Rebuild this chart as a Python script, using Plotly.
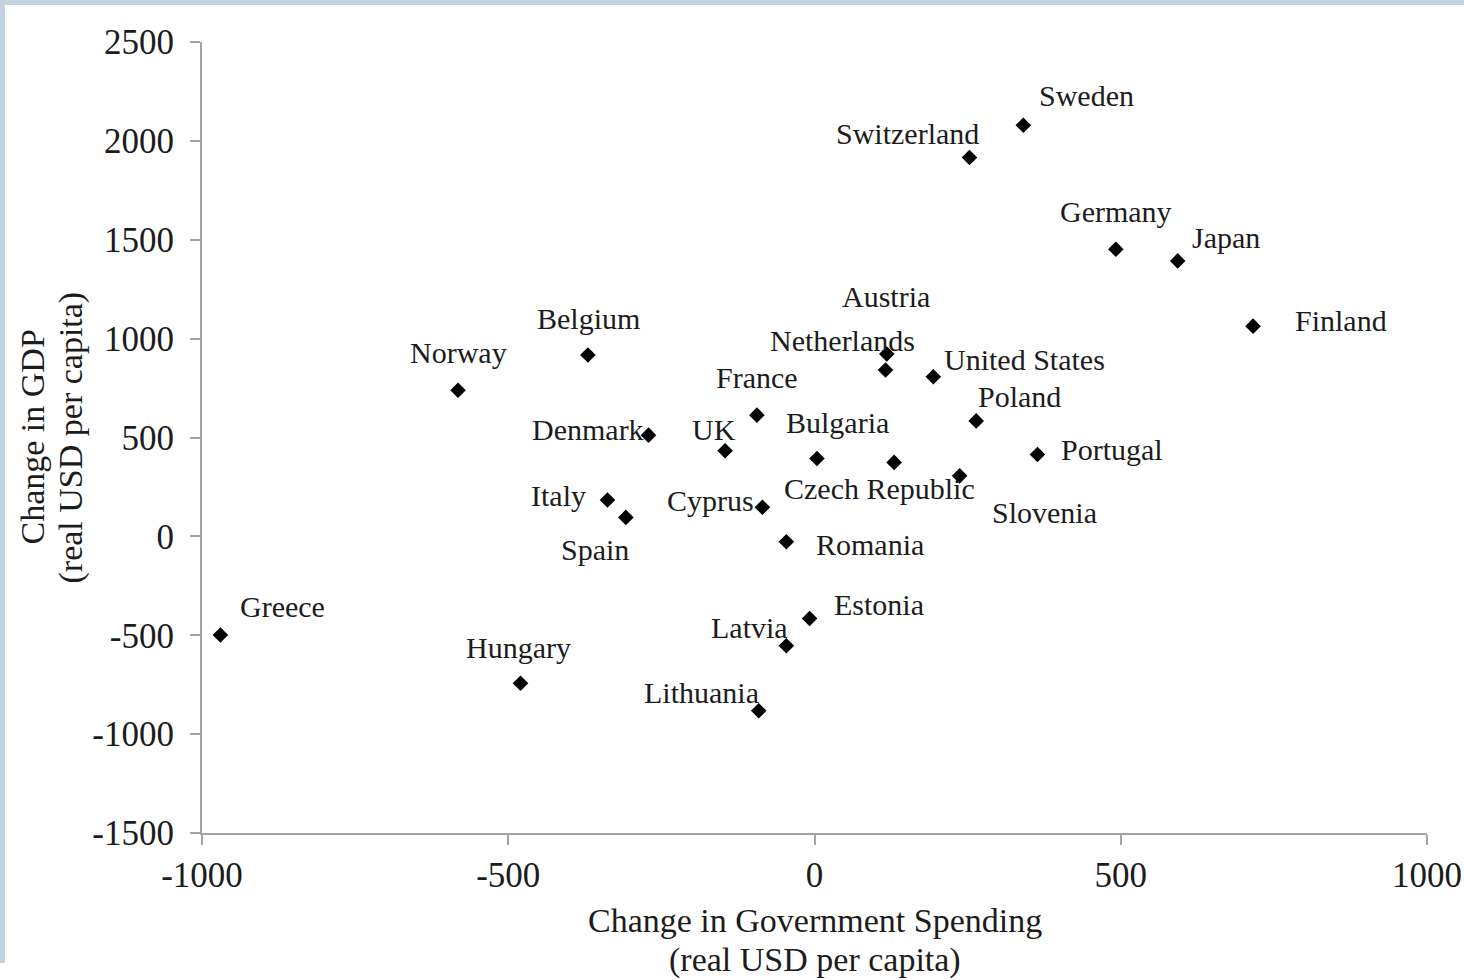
import plotly.graph_objects as go

# Change in government spending vs change in GDP, real USD per capita
countries = [
    "Greece", "Hungary", "Norway", "Belgium", "Denmark", "UK", "France",
    "Italy", "Spain", "Cyprus", "Romania", "Bulgaria", "Czech Republic",
    "Netherlands", "Austria", "United States", "Poland", "Slovenia",
    "Portugal", "Switzerland", "Sweden", "Germany", "Japan", "Finland",
    "Estonia", "Latvia", "Lithuania",
]
gov_spending = [
    -970, -480, -582, -370, -271, -146, -94,
    -338, -308, -85, -46, 4, 130,
    116, 118, 194, 264, 237,
    364, 253, 341, 492, 593, 716,
    -8, -46, -91,
]
gdp_change = [
    -499, -743, 739, 917, 512, 433, 613,
    184, 96, 147, -27, 394, 374,
    841, 922, 807, 584, 306,
    414, 1916, 2079, 1452, 1393, 1063,
    -415, -553, -882,
]

x_ticks = [-1000, -500, 0, 500, 1000]
x_tick_labels = ["-1000", "-500", "0", "500", "1000"]
y_ticks = [-1500, -1000, -500, 0, 500, 1000, 1500, 2000, 2500]
y_tick_labels = ["-1500", "-1000", "-500", "0", "500", "1000", "1500", "2000", "2500"]

# label placement relative to each marker, in pixels (right, down)
label_offsets = {
    "Greece": (62, -29), "Hungary": (-2, -36), "Norway": (0, -38),
    "Belgium": (1, -37), "Denmark": (-61, -6), "UK": (-11, -21),
    "France": (0, -38), "Italy": (-49, -4), "Spain": (-31, 32),
    "Cyprus": (-52, -7), "Romania": (84, 3), "Bulgaria": (21, -36),
    "Czech Republic": (-15, 26), "Netherlands": (-43, -30),
    "Austria": (-1, -58), "United States": (91, -17), "Poland": (43, -24),
    "Slovenia": (85, 37), "Portugal": (75, -5), "Switzerland": (-62, -24),
    "Sweden": (63, -30), "Germany": (0, -38), "Japan": (48, -23),
    "Finland": (88, -6), "Estonia": (69, -14), "Latvia": (-37, -18),
    "Lithuania": (-57, -18),
}

FONT = "Liberation Serif, Times New Roman, serif"
AXIS_GREY = "#a3a3a3"
TEXT = "#1c1c1c"
FRAME = "#c5d3e1"

W, H = 1464, 980
ML, MR, MT, MB = 202, 37, 42, 147
PW, PH = W - ML - MR, H - MT - MB

fig = go.Figure()
fig.add_trace(go.Scatter(
    x=gov_spending, y=gdp_change, mode="markers",
    marker=dict(symbol="diamond", size=12, color="#000000", line=dict(width=0)),
    hoverinfo="text", text=countries, showlegend=False,
))

annotations = []
for name, gx, gy in zip(countries, gov_spending, gdp_change):
    dx, dy = label_offsets[name]
    annotations.append(dict(
        x=gx, y=gy, xref="x", yref="y", text=name, showarrow=False,
        xanchor="center", yanchor="middle", xshift=dx, yshift=-dy,
        font=dict(family=FONT, size=30, color=TEXT),
    ))

# axis titles
annotations += [
    dict(x=0.5, y=0, xref="paper", yref="paper", text="Change in Government Spending",
         showarrow=False, xanchor="center", yanchor="middle", yshift=-87,
         font=dict(family=FONT, size=34, color=TEXT)),
    dict(x=0.5, y=0, xref="paper", yref="paper", text="(real USD per capita)",
         showarrow=False, xanchor="center", yanchor="middle", yshift=-127,
         font=dict(family=FONT, size=34, color=TEXT)),
    dict(x=0, y=0.5, xref="paper", yref="paper", text="Change in GDP",
         showarrow=False, xanchor="center", yanchor="middle", xshift=-170, textangle=-90,
         font=dict(family=FONT, size=34, color=TEXT)),
    dict(x=0, y=0.5, xref="paper", yref="paper", text="(real USD per capita)",
         showarrow=False, xanchor="center", yanchor="middle", xshift=-132, textangle=-90,
         font=dict(family=FONT, size=34, color=TEXT)),
]

axis_common = dict(
    showgrid=False, zeroline=False, showline=True, linecolor=AXIS_GREY, linewidth=2,
    ticks="outside", ticklen=10, tickwidth=2, tickcolor=AXIS_GREY, automargin=False,
    tickfont=dict(family=FONT, size=35, color=TEXT), fixedrange=True,
)

# light frame strips along the top and left edges of the page
frame_shapes = [
    dict(type="rect", xref="paper", yref="paper",
         x0=-ML / PW, x1=(W - ML) / PW, y0=1 + (MT - 5) / PH, y1=1 + MT / PH,
         fillcolor=FRAME, line=dict(width=0), layer="below"),
    dict(type="rect", xref="paper", yref="paper",
         x0=-ML / PW, x1=(5 - ML) / PW, y0=(PH + MT - 963) / PH, y1=1 + MT / PH,
         fillcolor=FRAME, line=dict(width=0), layer="below"),
]

fig.update_layout(
    width=W, height=H,
    margin=dict(l=ML, r=MR, t=MT, b=MB, pad=0, autoexpand=False),
    paper_bgcolor="#ffffff", plot_bgcolor="#ffffff",
    xaxis=dict(range=[-1000, 1000], tickvals=x_ticks, ticktext=x_tick_labels,
               ticklabelstandoff=0, **axis_common),
    yaxis=dict(range=[-1500, 2500], tickvals=y_ticks, ticktext=y_tick_labels,
               ticklabelstandoff=9, **axis_common),
    annotations=annotations,
    shapes=frame_shapes,
)

fig.write_html("out.html")
